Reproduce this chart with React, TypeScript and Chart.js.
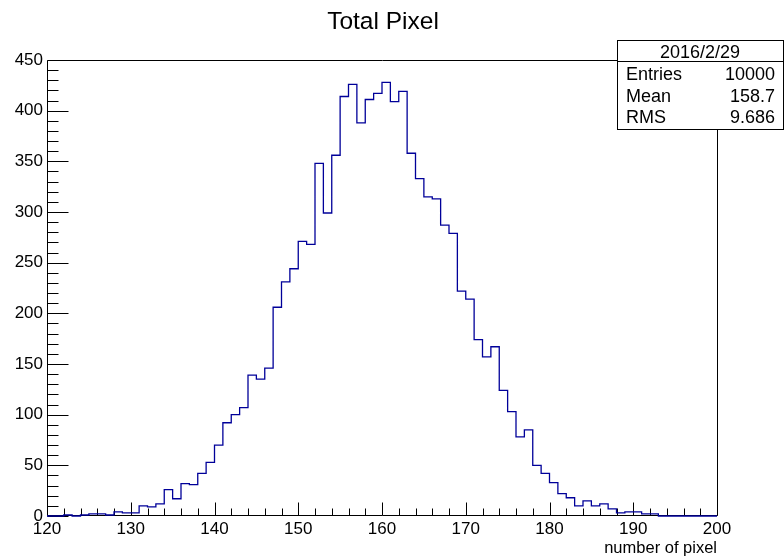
import React, { useEffect, useRef } from 'react';
import { Chart, registerables } from 'chart.js';

Chart.register(...registerables);

// ---- data ----
const binLow = 120;
const binHigh = 200;
const binWidth = 1;
const counts = [
  0, 0, 1, 0, 1, 2, 2, 1, 4, 3,
  3, 10, 9, 12, 26, 17, 32, 31, 42, 53,
  70, 92, 100, 107, 139, 135, 146, 206, 231, 244,
  271, 268, 348, 299, 356, 414, 426, 388, 411, 417,
  428, 409, 419, 358, 333, 315, 313, 287, 279, 222,
  214, 174, 157, 167, 124, 103, 78, 85, 50, 42,
  33, 22, 18, 10, 15, 10, 12, 7, 3, 4,
  4, 2, 2, 0, 0, 0, 0, 0, 0, 0,
];
const xTickLabels = [120, 130, 140, 150, 160, 170, 180, 190, 200];
const yTickLabels = [0, 50, 100, 150, 200, 250, 300, 350, 400, 450];
const xMinorStep = 2;
const yMinorStep = 10;
const titleText = 'Total Pixel';
const xTitleText = 'number of pixel';
const statsHeader = '2016/2/29';
const statsLabels = ['Entries', 'Mean', 'RMS'];
const statsValues = ['10000', '158.7', '9.686'];

const FONT = "'Liberation Sans', Arial, Helvetica, sans-serif";
const LINE_COLOR = 'rgb(0,0,153)';

const decoPlugin = {
  id: 'rootDeco',
  beforeDatasetsDraw(chart: any) {
    const { ctx, chartArea } = chart;
    const { left, right, top, bottom } = chartArea;
    const xs = chart.scales.x;
    const ys = chart.scales.y;
    ctx.save();
    ctx.strokeStyle = '#000';
    ctx.lineWidth = 1;
    ctx.beginPath();
    ctx.moveTo(left + 0.5, top + 0.5);
    ctx.lineTo(right + 0.5, top + 0.5);
    ctx.lineTo(right + 0.5, bottom - 0.5);
    ctx.lineTo(left + 0.5, bottom - 0.5);
    ctx.closePath();
    for (let v = xTickLabels[0]; v <= xTickLabels[xTickLabels.length - 1]; v += xMinorStep) {
      const px = Math.round(xs.getPixelForValue(v)) + 0.5;
      const len = xTickLabels.includes(v) ? 13 : 7;
      ctx.moveTo(px, bottom - 0.5);
      ctx.lineTo(px, bottom - 0.5 - len);
    }
    for (let v = yTickLabels[0]; v <= yTickLabels[yTickLabels.length - 1]; v += yMinorStep) {
      const py = Math.round(ys.getPixelForValue(v)) + 0.5;
      const len = yTickLabels.includes(v) ? 21 : 11;
      ctx.moveTo(left + 0.5, py);
      ctx.lineTo(left + 0.5 + len, py);
    }
    ctx.stroke();
    ctx.restore();
  },
  afterDraw(chart: any) {
    const { ctx, chartArea } = chart;
    ctx.save();
    ctx.fillStyle = '#000';
    ctx.font = `24.5px ${FONT}`;
    ctx.textAlign = 'center';
    ctx.textBaseline = 'alphabetic';
    ctx.fillText(titleText, 383, 29);
    ctx.font = `16.5px ${FONT}`;
    ctx.textAlign = 'right';
    ctx.fillText(xTitleText, chartArea.right, 553);
    const bx = 617, by = 40, bw = 166, bh = 89;
    ctx.fillStyle = '#fff';
    ctx.fillRect(bx, by, bw, bh);
    ctx.strokeStyle = '#000';
    ctx.lineWidth = 1;
    ctx.strokeRect(bx + 0.5, by + 0.5, bw, bh);
    ctx.beginPath();
    ctx.moveTo(bx, by + 21.5);
    ctx.lineTo(bx + bw, by + 21.5);
    ctx.stroke();
    ctx.fillStyle = '#000';
    ctx.font = `18px ${FONT}`;
    ctx.textAlign = 'center';
    ctx.fillText(statsHeader, 700, 58);
    const rows = [80, 102, 123];
    statsLabels.forEach((lab, i) => {
      ctx.textAlign = 'left';
      ctx.fillText(lab, 626, rows[i]);
      ctx.textAlign = 'right';
      ctx.fillText(statsValues[i], 775, rows[i]);
    });
    ctx.restore();
  },
};

export default function App() {
  const ref = useRef<HTMLCanvasElement>(null);
  useEffect(() => {
    if (!ref.current) return;
    const points = counts.map((c, i) => ({ x: binLow + i * binWidth, y: c }));
    points.push({ x: binHigh, y: counts[counts.length - 1] });
    const chart = new Chart(ref.current, {
      type: 'line',
      data: {
        datasets: [
          {
            data: points,
            stepped: 'before',
            borderColor: LINE_COLOR,
            borderWidth: 1.3,
            pointRadius: 0,
            fill: false,
            clip: false,
          } as any,
        ],
      },
      options: {
        responsive: false,
        animation: false,
        devicePixelRatio: 1,
        layout: { padding: { top: 60, right: 67, left: 0, bottom: 0 } },
        plugins: {
          legend: { display: false },
          tooltip: { enabled: false },
          title: { display: false },
        },
        scales: {
          x: {
            type: 'linear',
            min: binLow,
            max: binHigh,
            grid: { display: false, drawTicks: false },
            border: { display: false },
            ticks: {
              stepSize: 10,
              autoSkip: false,
              maxRotation: 0,
              padding: 3,
              color: '#000',
              font: { family: FONT, size: 17 },
            },
            afterFit: (s: any) => { s.height = 41; },
          },
          y: {
            type: 'linear',
            min: 0,
            max: 450,
            grid: { display: false, drawTicks: false },
            border: { display: false },
            ticks: {
              stepSize: 50,
              autoSkip: false,
              padding: 4,
              color: '#000',
              font: { family: FONT, size: 17 },
            },
            afterFit: (s: any) => { s.width = 47; },
          },
        },
      },
      plugins: [decoPlugin],
    });
    return () => chart.destroy();
  }, []);
  return (
    <div style={{ position: 'absolute', left: 0, top: 0, width: 784, height: 557, background: '#fff' }}>
      <canvas ref={ref} width={784} height={557} style={{ display: 'block' }} />
    </div>
  );
}
